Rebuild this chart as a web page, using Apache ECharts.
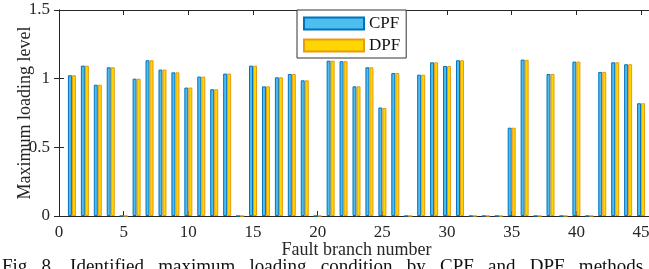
<!DOCTYPE html>
<html><head><meta charset="utf-8">
<script src="https://cdn.jsdelivr.net/npm/echarts@6/dist/echarts.min.js"></script>
<style>html,body{margin:0;padding:0;overflow:hidden;background:#fff;width:649px;height:269px}#c{width:660px;height:269px}</style>
</head><body><div id="c"></div>
<script>
const branches = [1,2,3,4,5,6,7,8,9,10,11,12,13,14,15,16,17,18,19,20,21,22,23,24,25,26,27,28,29,30,31,32,33,34,35,36,37,38,39,40,41,42,43,44,45];
const cpf = [1.025,1.095,0.956,1.083,0,1.0,1.134,1.066,1.046,0.935,1.015,0.923,1.037,0,1.095,0.944,1.01,1.034,0.988,0,1.131,1.127,0.944,1.083,0.79,1.041,0,1.029,1.119,1.092,1.134,0,0,0,0.643,1.139,0,1.034,0,1.124,0,1.049,1.119,1.105,0.821];
const dpf = [1.025,1.095,0.956,1.083,0,1.0,1.134,1.066,1.046,0.935,1.015,0.923,1.037,0,1.095,0.944,1.01,1.034,0.988,0,1.131,1.127,0.944,1.083,0.786,1.041,0,1.029,1.119,1.092,1.134,0,0,0,0.643,1.137,0,1.034,0,1.124,0,1.049,1.119,1.105,0.821];
const xTicks = [0,5,10,15,20,25,30,35,40,45];
const yTicks = [0,0.5,1,1.5];
const caption = 'Fig.  8.   Identified   maximum   loading   condition   by   CPF   and   DPF   methods';

const font = 'Liberation Serif';
const axisCol = '#262626';
const chart = echarts.init(document.getElementById('c'), null, {renderer:'canvas'});
const mk = (vals) => branches.map((b,i)=>[b, vals[i]]);
chart.setOption({
  animation:false,
  backgroundColor:'#fff',
  textStyle:{fontFamily:font},
  grid:{left:59, right:6, top:10, bottom:53, containLabel:false, outerBoundsMode:'none'},
  legend:{
    orient:'vertical', left:297, top:10, itemWidth:60, itemHeight:12, itemGap:5,
    padding:[5,6,4,6], borderColor:'#333', borderWidth:1, backgroundColor:'#fff',
    icon:'rect',
    textStyle:{fontFamily:font, fontSize:17, color:'#111'},
    data:['CPF','DPF']
  },
  xAxis:[{
    type:'value', min:0, max:46, interval:5,
    name:'Fault branch number', nameLocation:'middle', nameGap:25, nameMoveOverlap:false,
    nameTextStyle:{fontFamily:font, fontSize:18, color:axisCol},
    axisLine:{show:true, onZero:false, lineStyle:{color:axisCol, width:1}},
    axisTick:{show:true, inside:true, length:5, lineStyle:{color:axisCol}},
    axisLabel:{fontFamily:font, fontSize:17, color:axisCol, margin:8,
      formatter:(v)=> xTicks.includes(v) ? String(v) : ''},
    splitLine:{show:false}
  },{
    type:'value', position:'top', min:0, max:46, interval:5,
    axisLine:{show:true, onZero:false, lineStyle:{color:axisCol, width:1}},
    axisTick:{show:true, inside:true, length:5, lineStyle:{color:axisCol}},
    axisLabel:{show:false}, splitLine:{show:false}
  }],
  yAxis:[{
    type:'value', min:0, max:1.5, interval:0.5,
    name:'Maximum loading level', nameLocation:'middle', nameGap:25, nameMoveOverlap:false,
    nameTextStyle:{fontFamily:font, fontSize:18, color:axisCol},
    axisLine:{show:true, lineStyle:{color:axisCol, width:1}},
    axisTick:{show:true, inside:true, length:5, lineStyle:{color:axisCol}},
    axisLabel:{fontFamily:font, fontSize:17, color:axisCol, margin:9,
      formatter:(v)=> yTicks.includes(v) ? String(v) : ''},
    splitLine:{show:false}
  },{
    type:'value', position:'right', min:0, max:1.5, interval:0.5,
    axisLine:{show:true, lineStyle:{color:axisCol, width:1}},
    axisTick:{show:true, inside:true, length:5, lineStyle:{color:axisCol}},
    axisLabel:{show:false}, splitLine:{show:false}
  }],
  series:[{
    name:'CPF', type:'bar', data:mk(cpf), barWidth:4, barGap:'0%',
    itemStyle:{color:'#4DBEEE', borderColor:'#0072BD', borderWidth:1}
  },{
    name:'DPF', type:'bar', data:mk(dpf), barWidth:4, barGap:'0%',
    itemStyle:{color:'#FFD500', borderColor:'#E89A10', borderWidth:1}
  }],
  graphic:[{
    type:'text', left:2, top:258,
    style:{text:caption, fontFamily:font, fontSize:19, fill:'#111'}
  }]
});
</script></body></html>
